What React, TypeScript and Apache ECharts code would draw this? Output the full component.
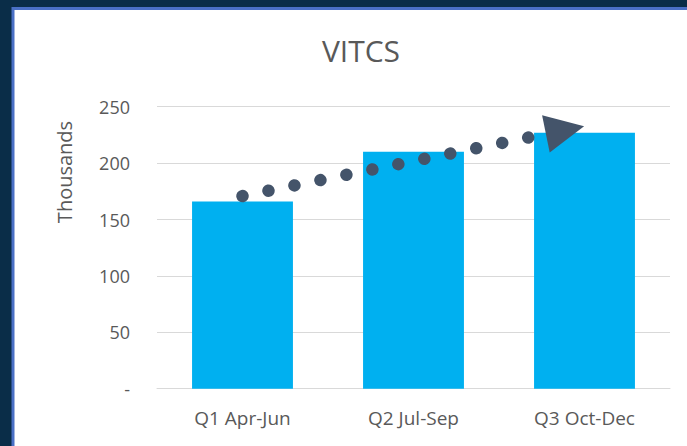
import React, { useEffect, useRef } from "react";
import * as echarts from "echarts";

const categories = ["Q1 Apr-Jun", "Q2 Jul-Sep", "Q3 Oct-Dec"];
const values = [166, 210, 227];
const yTicks = { min: 0, max: 250, interval: 50 };
const trendStart = [0, 170.8];
const trendEnd = [1.886, 229.3];
const titleText = "VITCS";
const yName = "Thousands";

const TEXT = "#595959";
const FONT = "'Open Sans', sans-serif";

export default function App() {
  const ref = useRef<HTMLDivElement>(null);
  useEffect(() => {
    const chart = echarts.init(ref.current!, null, { renderer: "svg" });
    chart.setOption({
      animation: false,
      backgroundColor: "#0A2D48",
      title: {
        text: titleText,
        left: 356,
        top: 30,
        textAlign: "center",
        textStyle: { color: TEXT, fontSize: 30, fontWeight: "normal", fontFamily: FONT },
      },
      graphic: [
        {
          type: "rect",
          z: -10,
          shape: { x: 13, y: 8.5, width: 690, height: 450 },
          style: { fill: "#ffffff", stroke: "#4A70C6", lineWidth: 3 },
        },
        {
          type: "text",
          x: 64,
          y: 172,
          rotation: Math.PI / 2,
          style: {
            text: yName,
            fill: TEXT,
            font: `20px ${FONT}`,
            align: "center",
            verticalAlign: "middle",
          },
        },
      ],
      grid: { left: 157, right: 17, top: 106.7, bottom: 57.3 },
      xAxis: [
        {
          type: "category",
          data: categories,
          axisLine: { lineStyle: { color: "#D9D9D9", width: 1 } },
          axisTick: { show: false },
          axisLabel: { color: TEXT, fontSize: 19, fontFamily: FONT, margin: 20 },
        },
        {
          type: "value",
          min: -0.5,
          max: 2.5,
          show: false,
        },
      ],
      yAxis: {
        type: "value",
        min: yTicks.min,
        max: yTicks.max,
        interval: yTicks.interval,
        axisLine: { show: false },
        axisTick: { show: false },
        splitLine: { lineStyle: { color: "#D9D9D9", width: 1 } },
        axisLabel: {
          color: TEXT,
          fontSize: 18,
          fontFamily: FONT,
          margin: 27,
          formatter: (v: number) => (v === 0 ? "-" : String(v)),
        },
      },
      series: [
        {
          type: "bar",
          data: values,
          barCategoryGap: "41%",
          itemStyle: { color: "#00B0F0" },
          silent: true,
        },
        {
          type: "line",
          xAxisIndex: 1,
          yAxisIndex: 0,
          data: [],
          silent: true,
          markLine: {
            silent: true,
            symbol: ["none", "triangle"],
            symbolSize: [38, 39],
            label: { show: false },
            lineStyle: {
              color: "#44546A",
              width: 12.5,
              type: [0.01, 26.5],
              cap: "round",
            },
            emphasis: { disabled: true },
            data: [[{ coord: trendStart }, { coord: trendEnd }]],
          },
        },
      ],
    });
    return () => chart.dispose();
  }, []);
  return (
    <div
      ref={ref}
      style={{ position: "fixed", left: 0, top: 0, width: 687, height: 446 }}
    />
  );
}
